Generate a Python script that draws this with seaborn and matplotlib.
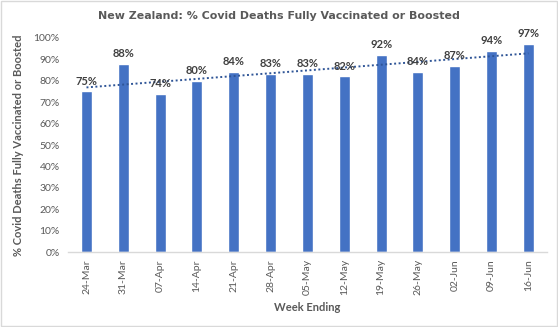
import numpy as np
import pandas as pd
import matplotlib
matplotlib.use("Agg")
import matplotlib.pyplot as plt
import seaborn as sns
from matplotlib.ticker import PercentFormatter
from matplotlib.patches import Rectangle

weeks = ["24-Mar", "31-Mar", "07-Apr", "14-Apr", "21-Apr", "28-Apr", "05-May",
         "12-May", "19-May", "26-May", "02-Jun", "09-Jun", "16-Jun"]
pct_vaccinated = [75, 88, 74, 80, 84, 83, 83, 82, 92, 84, 87, 94, 97]
y_ticks = [0, 10, 20, 30, 40, 50, 60, 70, 80, 90, 100]

title = "New Zealand: % Covid Deaths Fully Vaccinated or Boosted"
x_label = "Week Ending"
y_label = "% Covid Deaths Fully Vaccinated or Boosted"

sns.set_theme(style="white")
plt.rcParams["font.family"] = ["Lato", "DejaVu Sans"]

df = pd.DataFrame({"week": weeks, "pct": pct_vaccinated})

fig = plt.figure(figsize=(5.58, 3.27), dpi=100)
ax = fig.add_axes([0.122, 0.229, 0.858, 0.655])

sns.barplot(data=df, x="week", y="pct", color="#4472C4", width=0.3,
            saturation=1, ax=ax)

# linear trend line
xs = np.arange(len(weeks))
coef = np.polyfit(xs, pct_vaccinated, 1)
ax.plot(xs, np.polyval(coef, xs), linestyle=(0, (1, 1.3)), color="#2F5597",
        linewidth=1.4)

for c in ax.containers:
    ax.bar_label(c, labels=[f"{v}%" for v in pct_vaccinated], padding=3.5,
                 fontsize=8, fontweight="bold", color="#404040")

ax.set_ylim(0, 100)
ax.set_xlim(-0.5, len(weeks) - 0.5)
ax.set_yticks(y_ticks)
ax.yaxis.set_major_formatter(PercentFormatter(100, decimals=0))
ax.tick_params(axis="y", labelsize=7.5, colors="#595959", length=0, pad=6)
ax.tick_params(axis="x", labelsize=7.5, colors="#595959", length=0, pad=5,
               labelrotation=90)
for s in ["top", "right", "left"]:
    ax.spines[s].set_visible(False)
ax.spines["bottom"].set_color("#D9D9D9")
ax.spines["bottom"].set_linewidth(1)

ax.set_xlabel(x_label, fontsize=8, fontweight="bold", color="#595959",
              labelpad=5)
ax.set_ylabel(y_label, fontsize=8, fontweight="bold", color="#595959",
              labelpad=7)

fig.text(0.5, 0.952, title, ha="center", va="center", fontsize=7.9,
         fontweight="bold", color="#595959", family=["DejaVu Sans"])

fig.patches.append(Rectangle((0.002, 0.003), 0.996, 0.994, transform=fig.transFigure,
                             fill=False, edgecolor="#D9D9D9", linewidth=1))

fig.savefig("out.png", dpi=100)
